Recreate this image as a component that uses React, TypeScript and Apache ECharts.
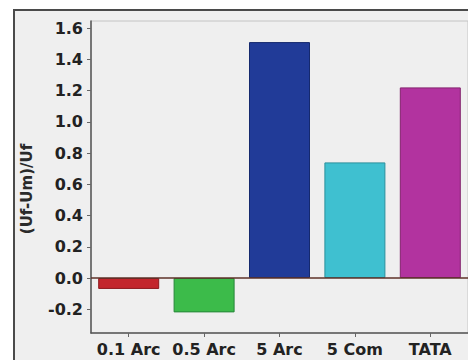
import React, { useEffect, useRef } from "react";
import * as echarts from "echarts";

const categories = ["0.1 Arc", "0.5 Arc", "5 Arc", "5 Com", "TATA"];
const values = [-0.07, -0.22, 1.51, 0.74, 1.22];
const barColors = ["#c3262d", "#3cbb4a", "#213b98", "#3fc0d0", "#b2339f"];
const borderColors = ["#8e1a1f", "#27873a", "#15296e", "#2b8f9c", "#84236f"];
const yTicks = [-0.2, 0, 0.2, 0.4, 0.6, 0.8, 1.0, 1.2, 1.4, 1.6];
const yAxisTitle = "(Uf-Um)/Uf";

const FONT = "DejaVu Sans";

export default function App() {
  const ref = useRef<HTMLDivElement>(null);
  useEffect(() => {
    if (!ref.current) return;
    const chart = echarts.init(ref.current, null, { renderer: "svg" });
    chart.setOption({
      animation: false,
      backgroundColor: "#ffffff",
      graphic: [
        {
          type: "rect",
          z: -10,
          shape: { x: 14, y: 10, width: 470, height: 360 },
          style: { fill: "#efefef", stroke: "#4a4a4a", lineWidth: 2 },
          silent: true,
        },
        {
          type: "text",
          x: 27,
          y: 189,
          rotation: Math.PI / 2,
          style: {
            text: yAxisTitle,
            font: `bold 15px "${FONT}"`,
            fill: "#2a2a2a",
            align: "center",
            verticalAlign: "middle",
          },
        },
      ],
      grid: {
        left: 91,
        top: 21,
        right: 0,
        bottom: 27,
        show: true,
        borderColor: "#c4c4c4",
        borderWidth: 1,
        backgroundColor: "transparent",
      },
      xAxis: {
        type: "category",
        data: categories,
        boundaryGap: true,
        axisLine: { show: true, onZero: false, lineStyle: { color: "#555", width: 1.5 } },
        axisTick: { show: true, alignWithLabel: true, length: 4, lineStyle: { color: "#666" } },
        axisLabel: {
          interval: 0,
          hideOverlap: false,
          margin: 8,
          color: "#222",
          fontFamily: FONT,
          fontWeight: "bold",
          fontSize: 16,
        },
        splitLine: { show: false },
      },
      yAxis: {
        type: "value",
        min: -0.352,
        max: 1.645,
        axisLine: { show: true, lineStyle: { color: "#555", width: 1.5 } },
        axisTick: { show: true, length: 4, customValues: yTicks, lineStyle: { color: "#666" } },
        axisLabel: {
          customValues: yTicks,
          margin: 8,
          color: "#222",
          fontFamily: FONT,
          fontWeight: "bold",
          fontSize: 16,
          formatter: (v: number) => (Math.abs(v) < 1e-9 ? "0.0" : v.toFixed(1)),
        },
        splitLine: { show: false },
      },
      series: [
        {
          type: "bar",
          barWidth: 61,
          clip: false,
          data: values.map((v, i) => ({
            value: v,
            itemStyle: { color: barColors[i], borderColor: borderColors[i], borderWidth: 1 },
          })),
          markLine: {
            silent: true,
            symbol: "none",
            label: { show: false },
            lineStyle: { color: "#5e3229", width: 1.5, type: "solid" },
            data: [{ yAxis: 0 }],
          },
        },
      ],
    });
    return () => chart.dispose();
  }, []);
  return (
    <div
      ref={ref}
      style={{ position: "fixed", left: 0, top: 0, width: 468, height: 360 }}
    />
  );
}
